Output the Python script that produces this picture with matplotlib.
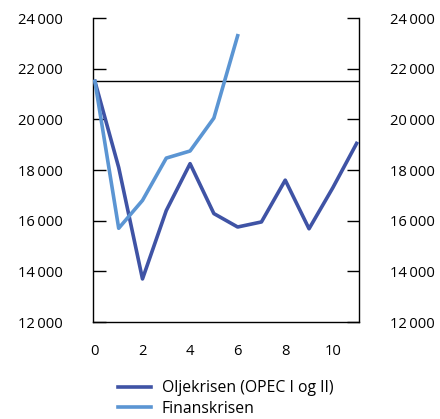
import matplotlib
matplotlib.use("Agg")
import matplotlib.pyplot as plt
from matplotlib.ticker import FuncFormatter

plt.rcParams['font.family'] = ['Open Sans', 'DejaVu Sans']

x_olje = [0, 1, 2, 3, 4, 5, 6, 7, 8, 9, 10, 11]
olje = [21500, 18100, 13700, 16400, 18250, 16280, 15750, 15950, 17600, 15680, 17300, 19050]
x_fin = [0, 1, 2, 3, 4, 5, 6]
fin = [21500, 15700, 16800, 18470, 18750, 20050, 23300]
ref_level = 21500
y_ticks = [12000, 14000, 16000, 18000, 20000, 22000, 24000]
x_ticks = [0, 2, 4, 6, 8, 10]
labels = ["Oljekrisen (OPEC I og II)", "Finanskrisen"]

c_dark = "#3F53A5"
c_light = "#5B95D3"

fig = plt.figure(figsize=(4.40, 4.19), dpi=100)
ax = fig.add_axes([93/440, 1-322/419, (359-93)/440, (322-18)/419])

ax.axhline(ref_level, color="black", lw=1.0, zorder=1)
l1, = ax.plot(x_olje, olje, color=c_dark, lw=2.6, label=labels[0], zorder=3)
l2, = ax.plot(x_fin, fin, color=c_light, lw=2.6, label=labels[1], zorder=3)

ax.set_xlim(-0.08, 11.1)
ax.set_ylim(12000, 24000)
ax.set_yticks(y_ticks)
ax.set_xticks(x_ticks)
fmt = FuncFormatter(lambda v, p: f"{int(v):,}".replace(",", "\u2009"))
ax.yaxis.set_major_formatter(fmt)

ax.spines['top'].set_visible(False)
for s in ['left', 'right', 'bottom']:
    ax.spines[s].set_linewidth(1.0)

ax.tick_params(axis='y', which='both', direction='in', length=9, width=1.0,
               left=True, right=True, labelleft=True, labelright=True,
               pad=22, labelsize=10.6, colors='black')
ax.tick_params(axis='x', length=0, pad=16, labelsize=10.6)

fig.legend(handles=[l1, l2], labels=labels, loc='upper left',
           bbox_to_anchor=(118/440, 1-380/419), frameon=False, fontsize=11.3,
           handlelength=2.1, handletextpad=0.7, labelspacing=0.3,
           borderaxespad=0, borderpad=0)

fig.savefig("out.png", dpi=100)
